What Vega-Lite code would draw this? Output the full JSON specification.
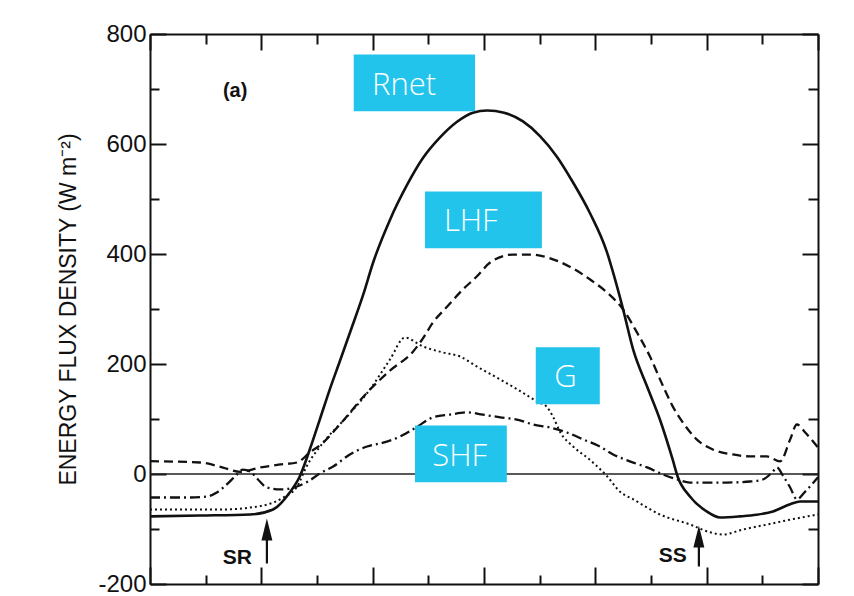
{
  "$schema": "https://vega.github.io/schema/vega-lite/v6.json",
  "width": 668,
  "height": 550,
  "autosize": {"type": "none"},
  "padding": {"left": 150, "top": 34, "right": 36, "bottom": 12},
  "background": "white",
  "config": {
    "view": {"stroke": null},
    "axis": {
      "grid": false,
      "domainColor": "#111",
      "domainWidth": 2,
      "tickColor": "#111",
      "tickWidth": 2,
      "labelFont": "Liberation Sans",
      "labelFontSize": 24,
      "labelColor": "#111",
      "titleFont": "Liberation Sans",
      "titleColor": "#111"
    }
  },
  "datasets": {
    "curves": [
      {"s": "Rnet", "t": 0, "v": -77}, {"s": "Rnet", "t": 0.9, "v": -75.5}, {"s": "Rnet", "t": 1.8, "v": -73.6}, {"s": "Rnet", "t": 2.21, "v": -64.5}, {"s": "Rnet", "t": 2.51, "v": -33.6}, {"s": "Rnet", "t": 2.69, "v": -4.5}, {"s": "Rnet", "t": 2.87, "v": 44.5}, {"s": "Rnet", "t": 3.05, "v": 99}, {"s": "Rnet", "t": 3.23, "v": 154}, {"s": "Rnet", "t": 3.41, "v": 205}, {"s": "Rnet", "t": 3.62, "v": 265}, {"s": "Rnet", "t": 3.83, "v": 326}, {"s": "Rnet", "t": 4.01, "v": 385}, {"s": "Rnet", "t": 4.31, "v": 462}, {"s": "Rnet", "t": 4.62, "v": 526}, {"s": "Rnet", "t": 4.9, "v": 574}, {"s": "Rnet", "t": 5.21, "v": 612}, {"s": "Rnet", "t": 5.51, "v": 640}, {"s": "Rnet", "t": 5.8, "v": 657}, {"s": "Rnet", "t": 6.06, "v": 661}, {"s": "Rnet", "t": 6.36, "v": 657}, {"s": "Rnet", "t": 6.7, "v": 641}, {"s": "Rnet", "t": 7.01, "v": 614}, {"s": "Rnet", "t": 7.31, "v": 577}, {"s": "Rnet", "t": 7.6, "v": 530}, {"s": "Rnet", "t": 7.9, "v": 475}, {"s": "Rnet", "t": 8.21, "v": 403}, {"s": "Rnet", "t": 8.32, "v": 366}, {"s": "Rnet", "t": 8.5, "v": 299}, {"s": "Rnet", "t": 8.68, "v": 226}, {"s": "Rnet", "t": 8.93, "v": 159}, {"s": "Rnet", "t": 9.16, "v": 99}, {"s": "Rnet", "t": 9.39, "v": 26}, {"s": "Rnet", "t": 9.48, "v": -5}, {"s": "Rnet", "t": 9.7, "v": -41}, {"s": "Rnet", "t": 10.0, "v": -68}, {"s": "Rnet", "t": 10.24, "v": -79}, {"s": "Rnet", "t": 10.6, "v": -77}, {"s": "Rnet", "t": 10.9, "v": -74}, {"s": "Rnet", "t": 11.19, "v": -68}, {"s": "Rnet", "t": 11.5, "v": -55}, {"s": "Rnet", "t": 11.68, "v": -50}, {"s": "Rnet", "t": 12, "v": -50},

      {"s": "LHF", "t": 0, "v": 23.3}, {"s": "LHF", "t": 0.9, "v": 20.9}, {"s": "LHF", "t": 1.31, "v": 11.8}, {"s": "LHF", "t": 1.62, "v": 4}, {"s": "LHF", "t": 1.98, "v": 11.8}, {"s": "LHF", "t": 2.34, "v": 17.3}, {"s": "LHF", "t": 2.64, "v": 20.9}, {"s": "LHF", "t": 2.87, "v": 39}, {"s": "LHF", "t": 3.11, "v": 57}, {"s": "LHF", "t": 3.41, "v": 90}, {"s": "LHF", "t": 3.9, "v": 148}, {"s": "LHF", "t": 4.31, "v": 188}, {"s": "LHF", "t": 4.72, "v": 222}, {"s": "LHF", "t": 4.9, "v": 246}, {"s": "LHF", "t": 5.08, "v": 275}, {"s": "LHF", "t": 5.34, "v": 304.5}, {"s": "LHF", "t": 5.62, "v": 335.5}, {"s": "LHF", "t": 5.87, "v": 359}, {"s": "LHF", "t": 6.11, "v": 384.5}, {"s": "LHF", "t": 6.52, "v": 399}, {"s": "LHF", "t": 6.83, "v": 399}, {"s": "LHF", "t": 7.13, "v": 394}, {"s": "LHF", "t": 7.54, "v": 377}, {"s": "LHF", "t": 7.9, "v": 354}, {"s": "LHF", "t": 8.21, "v": 330}, {"s": "LHF", "t": 8.5, "v": 299}, {"s": "LHF", "t": 8.75, "v": 257}, {"s": "LHF", "t": 8.98, "v": 214}, {"s": "LHF", "t": 9.22, "v": 159}, {"s": "LHF", "t": 9.39, "v": 123}, {"s": "LHF", "t": 9.57, "v": 94}, {"s": "LHF", "t": 9.82, "v": 63}, {"s": "LHF", "t": 10.11, "v": 44.5}, {"s": "LHF", "t": 10.47, "v": 35.5}, {"s": "LHF", "t": 10.78, "v": 32}, {"s": "LHF", "t": 11.08, "v": 32}, {"s": "LHF", "t": 11.32, "v": 23}, {"s": "LHF", "t": 11.5, "v": 63}, {"s": "LHF", "t": 11.62, "v": 90}, {"s": "LHF", "t": 11.77, "v": 75.5}, {"s": "LHF", "t": 12, "v": 48},

      {"s": "G", "t": 0, "v": -64.5}, {"s": "G", "t": 1.31, "v": -64.5}, {"s": "G", "t": 1.8, "v": -61}, {"s": "G", "t": 2.21, "v": -52}, {"s": "G", "t": 2.39, "v": -43}, {"s": "G", "t": 2.64, "v": -23}, {"s": "G", "t": 2.82, "v": 15}, {"s": "G", "t": 3.11, "v": 57}, {"s": "G", "t": 3.54, "v": 104.5}, {"s": "G", "t": 3.95, "v": 153.6}, {"s": "G", "t": 4.31, "v": 208}, {"s": "G", "t": 4.58, "v": 248}, {"s": "G", "t": 4.9, "v": 232}, {"s": "G", "t": 5.26, "v": 221}, {"s": "G", "t": 5.57, "v": 213.6}, {"s": "G", "t": 5.87, "v": 195.5}, {"s": "G", "t": 6.29, "v": 172}, {"s": "G", "t": 6.59, "v": 154.5}, {"s": "G", "t": 6.95, "v": 132}, {"s": "G", "t": 7.13, "v": 122}, {"s": "G", "t": 7.24, "v": 104}, {"s": "G", "t": 7.37, "v": 76}, {"s": "G", "t": 7.6, "v": 50}, {"s": "G", "t": 7.9, "v": 26}, {"s": "G", "t": 8.21, "v": -4}, {"s": "G", "t": 8.44, "v": -32}, {"s": "G", "t": 8.68, "v": -46}, {"s": "G", "t": 9.16, "v": -73.6}, {"s": "G", "t": 9.7, "v": -91.8}, {"s": "G", "t": 10.06, "v": -106}, {"s": "G", "t": 10.29, "v": -110}, {"s": "G", "t": 10.65, "v": -101}, {"s": "G", "t": 11.08, "v": -92}, {"s": "G", "t": 11.5, "v": -83}, {"s": "G", "t": 12, "v": -73.6},

      {"s": "SHF", "t": 0, "v": -42.7}, {"s": "SHF", "t": 0.72, "v": -42.7}, {"s": "SHF", "t": 1.02, "v": -41}, {"s": "SHF", "t": 1.2, "v": -33.6}, {"s": "SHF", "t": 1.38, "v": -19}, {"s": "SHF", "t": 1.56, "v": -1}, {"s": "SHF", "t": 1.67, "v": 8}, {"s": "SHF", "t": 1.8, "v": 4.5}, {"s": "SHF", "t": 1.94, "v": -10}, {"s": "SHF", "t": 2.1, "v": -24.5}, {"s": "SHF", "t": 2.34, "v": -28}, {"s": "SHF", "t": 2.64, "v": -22.7}, {"s": "SHF", "t": 2.84, "v": -13.6}, {"s": "SHF", "t": 3.05, "v": 1}, {"s": "SHF", "t": 3.29, "v": 13.6}, {"s": "SHF", "t": 3.59, "v": 35.5}, {"s": "SHF", "t": 3.9, "v": 50}, {"s": "SHF", "t": 4.19, "v": 57}, {"s": "SHF", "t": 4.49, "v": 68}, {"s": "SHF", "t": 4.8, "v": 86}, {"s": "SHF", "t": 5.08, "v": 103}, {"s": "SHF", "t": 5.39, "v": 108}, {"s": "SHF", "t": 5.69, "v": 112}, {"s": "SHF", "t": 5.98, "v": 108}, {"s": "SHF", "t": 6.29, "v": 103}, {"s": "SHF", "t": 6.59, "v": 99}, {"s": "SHF", "t": 6.88, "v": 90}, {"s": "SHF", "t": 7.19, "v": 84.5}, {"s": "SHF", "t": 7.49, "v": 75.5}, {"s": "SHF", "t": 7.78, "v": 63}, {"s": "SHF", "t": 8.08, "v": 50}, {"s": "SHF", "t": 8.32, "v": 35.5}, {"s": "SHF", "t": 8.62, "v": 23}, {"s": "SHF", "t": 8.93, "v": 12}, {"s": "SHF", "t": 9.22, "v": -1}, {"s": "SHF", "t": 9.47, "v": -10}, {"s": "SHF", "t": 9.7, "v": -15.5}, {"s": "SHF", "t": 10.0, "v": -15.5}, {"s": "SHF", "t": 10.36, "v": -15.5}, {"s": "SHF", "t": 10.78, "v": -13.6}, {"s": "SHF", "t": 11.01, "v": -10}, {"s": "SHF", "t": 11.19, "v": 4.5}, {"s": "SHF", "t": 11.26, "v": 12}, {"s": "SHF", "t": 11.37, "v": -3}, {"s": "SHF", "t": 11.5, "v": -24.5}, {"s": "SHF", "t": 11.62, "v": -46}, {"s": "SHF", "t": 11.77, "v": -32}, {"s": "SHF", "t": 12, "v": -6}
    ],
    "boxes": [
      {"name": "Rnet", "x1": 3.66, "x2": 5.84, "y1": 762.7, "y2": 659.6, "tx": 3.99, "ty": 690},
      {"name": "LHF", "x1": 4.94, "x2": 7.04, "y1": 513.6, "y2": 410.5, "tx": 5.28, "ty": 441.5},
      {"name": "G", "x1": 6.93, "x2": 8.08, "y1": 230.5, "y2": 126.9, "tx": 7.26, "ty": 157.8},
      {"name": "SHF", "x1": 4.76, "x2": 6.41, "y1": 88.2, "y2": -14.9, "tx": 5.07, "ty": 14.2}
    ],
    "arrows": [
      {"name": "SR", "t": 2.1, "base": -162.7, "head": -100.9, "lt": 1.57, "ly": -164.5},
      {"name": "SS", "t": 9.86, "base": -168.2, "head": -113.6, "lt": 9.39, "ly": -159.1}
    ],
    "panel": [{"name": "(a)", "t": 1.53, "v": 697}],
    "zero": [{"v": 0}]
  },
  "layer": [
    {
      "data": {"name": "zero"},
      "mark": {"type": "rule", "color": "#222", "strokeWidth": 1.3},
      "encoding": {
        "y": {"field": "v", "type": "quantitative", "scale": {"domain": [-200, 800], "nice": false}, "axis": null}
      }
    },
    {
      "data": {"name": "curves"},
      "transform": [{"filter": "datum.s === 'Rnet'"}],
      "mark": {"type": "line", "color": "#111", "strokeWidth": 2.6, "interpolate": "monotone"},
      "encoding": {
        "x": {"field": "t", "type": "quantitative", "scale": {"domain": [0, 12], "nice": false},
          "axis": {"orient": "bottom", "values": [0,1,2,3,4,5,6,7,8,9,10,11,12], "labels": false, "title": null,
            "tickSize": {"condition": {"test": "datum.value % 2 === 0", "value": -17}, "value": -9}}},
        "y": {"field": "v", "type": "quantitative", "scale": {"domain": [-200, 800], "nice": false},
          "axis": {"orient": "left", "values": [-200,-100,0,100,200,300,400,500,600,700,800],
            "labelExpr": "datum.value % 200 === 0 ? '' + datum.value : ''",
            "labelPadding": 20,
            "tickSize": {"condition": {"test": "datum.value % 200 === 0", "value": -16}, "value": -9},
            "title": "ENERGY FLUX DENSITY  (W m⁻²)", "titleFontSize": 23, "titleFontWeight": "normal", "titlePadding": 17}}
      }
    },
    {
      "data": {"name": "curves"},
      "transform": [{"filter": "datum.s === 'LHF'"}],
      "mark": {"type": "line", "color": "#111", "strokeWidth": 2.3, "strokeDash": [9, 5], "interpolate": "monotone"},
      "encoding": {
        "x": {"field": "t", "type": "quantitative", "axis": null},
        "y": {"field": "v", "type": "quantitative", "axis": null}
      }
    },
    {
      "data": {"name": "curves"},
      "transform": [{"filter": "datum.s === 'G'"}],
      "mark": {"type": "line", "color": "#111", "strokeWidth": 2, "strokeDash": [2, 3], "interpolate": "monotone"},
      "encoding": {
        "x": {"field": "t", "type": "quantitative", "axis": null},
        "y": {"field": "v", "type": "quantitative", "axis": null}
      }
    },
    {
      "data": {"name": "curves"},
      "transform": [{"filter": "datum.s === 'SHF'"}],
      "mark": {"type": "line", "color": "#111", "strokeWidth": 2.3, "strokeDash": [10, 4, 2, 4], "interpolate": "monotone"},
      "encoding": {
        "x": {"field": "t", "type": "quantitative", "axis": null},
        "y": {"field": "v", "type": "quantitative", "axis": null}
      }
    },
    {
      "data": {"name": "boxes"},
      "mark": {"type": "rect", "color": "#22c4ec"},
      "encoding": {
        "x": {"field": "x1", "type": "quantitative",
          "axis": {"orient": "top", "values": [0,1,2,3,4,5,6,7,8,9,10,11,12], "labels": false, "title": null,
            "tickSize": {"condition": {"test": "datum.value % 2 === 0", "value": -16}, "value": -10}}},
        "x2": {"field": "x2"},
        "y": {"field": "y1", "type": "quantitative",
          "axis": {"orient": "right", "values": [-200,-100,0,100,200,300,400,500,600,700,800], "labels": false, "title": null,
            "tickSize": {"condition": {"test": "datum.value % 200 === 0", "value": -16}, "value": -10}}},
        "y2": {"field": "y2"}
      }
    },
    {
      "data": {"name": "boxes"},
      "mark": {"type": "text", "color": "white", "font": "Open Sans", "fontWeight": 300, "fontSize": 31, "align": "left", "baseline": "alphabetic"},
      "encoding": {
        "x": {"field": "tx", "type": "quantitative", "axis": null},
        "y": {"field": "ty", "type": "quantitative", "axis": null},
        "text": {"field": "name"}
      }
    },
    {
      "data": {"name": "arrows"},
      "mark": {"type": "rule", "color": "#111", "strokeWidth": 2.2},
      "encoding": {
        "x": {"field": "t", "type": "quantitative", "axis": null},
        "y": {"field": "base", "type": "quantitative", "axis": null},
        "y2": {"field": "head"}
      }
    },
    {
      "data": {"name": "arrows"},
      "mark": {"type": "point", "shape": "M0,-1L0.5,1L-0.5,1Z", "size": 480, "filled": true, "color": "#111", "opacity": 1, "strokeWidth": 0},
      "encoding": {
        "x": {"field": "t", "type": "quantitative", "axis": null},
        "y": {"field": "head", "type": "quantitative", "axis": null}
      }
    },
    {
      "data": {"name": "arrows"},
      "mark": {"type": "text", "color": "#111", "font": "Liberation Sans", "fontWeight": "bold", "fontSize": 21, "align": "center", "baseline": "alphabetic"},
      "encoding": {
        "x": {"field": "lt", "type": "quantitative", "axis": null},
        "y": {"field": "ly", "type": "quantitative", "axis": null},
        "text": {"field": "name"}
      }
    },
    {
      "data": {"name": "panel"},
      "mark": {"type": "text", "color": "#111", "font": "Liberation Sans", "fontWeight": "bold", "fontSize": 20, "align": "center", "baseline": "middle"},
      "encoding": {
        "x": {"field": "t", "type": "quantitative", "axis": null},
        "y": {"field": "v", "type": "quantitative", "axis": null},
        "text": {"field": "name"}
      }
    }
  ],
  "resolve": {"axis": {"x": "independent", "y": "independent"}}
}
